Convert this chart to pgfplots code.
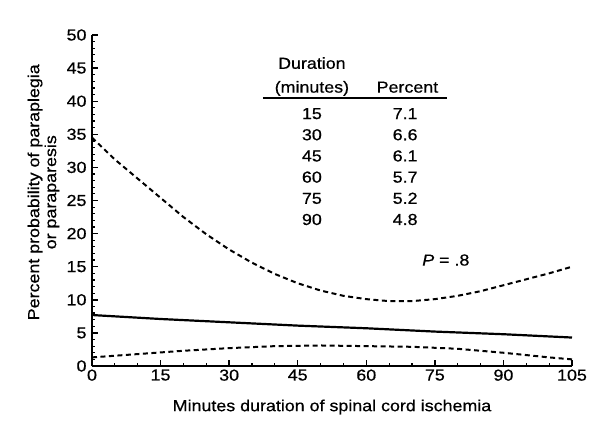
\documentclass[border=0pt]{standalone}
\usepackage{pgfplots}
\pgfplotsset{compat=1.18}
\usepackage{fontspec}
\setmainfont{Liberation Sans}[FakeStretch=1.12, FakeBold=0.6]
\begin{document}
\fontsize{16}{19}\selectfont
\begin{tikzpicture}
\begin{axis}[
  at={(0bp,0bp)}, anchor=south west,
  scale only axis, width=480bp, height=331bp,
  xmin=0, xmax=105, ymin=0, ymax=50,
  axis x line*=bottom, axis y line*=left,
  axis line style={line width=1.6bp, -},
  xtick={0,15,...,105}, ytick={0,5,...,50},
  minor x tick num=2, minor y tick num=4,
  tick align=inside,
  major tick style={line width=1.4bp, black},
  minor tick style={line width=1.2bp, black},
  major tick length=6bp, minor tick length=3.5bp,
  /pgf/number format/assume math mode=true,
  ticklabel style={font=\fontsize{16}{19}\selectfont},
  xticklabel style={yshift=2bp},
  xlabel={Minutes duration of spinal cord ischemia},
  xlabel style={at={(axis description cs:0.5,-0.124)}, anchor=center, font=\fontsize{16}{19}\selectfont},
  ylabel={Percent probability of paraplegia\\or paraparesis},
  ylabel style={at={(axis description cs:-0.101,0.525)}, anchor=center, rotate=0, align=center, font=\fontsize{16}{17}\selectfont},
  clip=false,
]
% upper confidence bound
\addplot[black, line width=2bp, dash pattern=on 5bp off 3.5bp] coordinates {
(0,34.5) (5,31.2) (10,28.3) (15,25.4) (20,22.5) (25,19.9) (30,17.6) (35,15.6)
(40,13.9) (45,12.5) (50,11.4) (55,10.6) (60,10.1) (65,9.8) (70,9.8) (75,10.1)
(80,10.6) (85,11.3) (90,12.2) (95,13.1) (100,14.0) (105,15.0)};
% estimate
\addplot[black, line width=2.2bp] coordinates {
(0,7.7) (15,7.1) (30,6.6) (45,6.1) (60,5.7) (75,5.2) (90,4.8) (105,4.3)};
% lower confidence bound
\addplot[black, line width=2bp, dash pattern=on 5bp off 3.5bp] coordinates {
(0,1.3) (10,1.8) (20,2.3) (30,2.7) (40,3.0) (50,3.1) (60,3.0) (70,2.9)
(80,2.6) (90,2.0) (100,1.3) (105,1.0)};
% table
\node[anchor=base] at (axis cs:48.1,44.9) {Duration};
\node[anchor=base] at (axis cs:48.1,41.3) {(minutes)};
\node[anchor=base] at (axis cs:69.0,41.3) {Percent};
\draw[line width=1.3bp] (axis cs:37.4,40.5) -- (axis cs:77.7,40.5);
\node[anchor=base] at (axis cs:48.1,37.3) {15};
\node[anchor=base] at (axis cs:48.1,34.1) {30};
\node[anchor=base] at (axis cs:48.1,30.9) {45};
\node[anchor=base] at (axis cs:48.1,27.7) {60};
\node[anchor=base] at (axis cs:48.1,24.5) {75};
\node[anchor=base] at (axis cs:48.1,21.3) {90};
\node[anchor=base] at (axis cs:68.5,37.3) {7.1};
\node[anchor=base] at (axis cs:68.5,34.1) {6.6};
\node[anchor=base] at (axis cs:68.5,30.9) {6.1};
\node[anchor=base] at (axis cs:68.5,27.7) {5.7};
\node[anchor=base] at (axis cs:68.5,24.5) {5.2};
\node[anchor=base] at (axis cs:68.5,21.3) {4.8};
\node[anchor=center] at (axis cs:77.4,16.0) {\textit{P} = .8};
\end{axis}
\pgfresetboundingbox
\path (-92bp,-58bp) rectangle (501bp,366bp);
\end{tikzpicture}
\end{document}
